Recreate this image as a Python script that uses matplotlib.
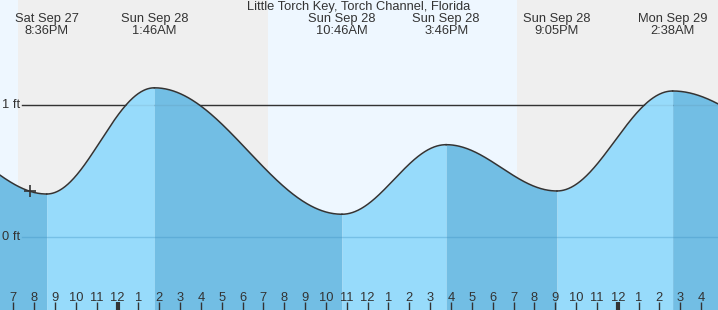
import numpy as np
import matplotlib
matplotlib.use("Agg")
import matplotlib.pyplot as plt
import matplotlib.transforms as mtransforms

plt.rcParams["font.family"] = ["Liberation Sans", "DejaVu Sans"]

# hours counted from Sat Sep 27 00:00
# first and last entries are off-chart extremes, estimated from the curve shape
tide_hours = [15.0, 20.6, 25.767, 34.767, 39.767, 45.083, 50.633, 57.5]
tide_feet = [0.74, 0.327, 1.13, 0.174, 0.70, 0.35, 1.106, 0.68]
event_labels = ["", "Sat Sep 27\n8:36PM", "Sun Sep 28\n1:46AM", "Sun Sep 28\n10:46AM",
                "Sun Sep 28\n3:46PM", "Sun Sep 28\n9:05PM", "Mon Sep 29\n2:38AM", ""]
sun_hours = [19.23, 31.22, 43.17]   # sunset, sunrise, sunset
now_hour = 19.8
now_feet = 0.35
hour_ticks = list(range(19, 53))
level_labels = ["1 ft", "0 ft"]
level_values = [1.0, 0.0]

x0, x1 = 18.36, 52.81
y0, y1 = -0.55, 1.794

day_col = "#eef7ff"
night_col = "#efefef"
rise_col = "#97dbfb"
fall_col = "#72bee4"
ink = "#333333"

fig = plt.figure(figsize=(7.18, 3.10), dpi=100)
ax = fig.add_axes([0, 0, 1, 1])
ax.set_xlim(x0, x1)
ax.set_ylim(y0, y1)
for s in ax.spines.values():
    s.set_visible(False)
ax.set_yticks([])

# day / night background
edges = [x0] + sun_hours + [x1]
for i in range(len(edges) - 1):
    ax.axvspan(edges[i], edges[i + 1], color=day_col if i % 2 == 0 else night_col, lw=0, zorder=0)

# 1 ft / 0 ft reference lines
ax.axhline(level_values[0], xmin=22 / 718, color=ink, lw=1, zorder=1)
ax.axhline(level_values[1], xmin=22 / 718, color="#3a8fc0", lw=1, alpha=0.35, zorder=4)
ax.axhline(level_values[0], xmin=22 / 718, color=ink, lw=1, alpha=0.08, zorder=4)

# tide curve, half-cosine between successive extremes
for i in range(len(tide_hours) - 1):
    ta, tb = tide_hours[i], tide_hours[i + 1]
    va, vb = tide_feet[i], tide_feet[i + 1]
    t = np.linspace(ta, tb, 200)
    v = va + (vb - va) * (1 - np.cos(np.pi * (t - ta) / (tb - ta))) / 2
    ax.fill_between(t, y0, v, color=rise_col if vb > va else fall_col, lw=0, zorder=2)
    ax.plot(t, v, color=ink, lw=1.1, zorder=5)

ax.plot(now_hour, now_feet, marker="+", ms=9, mew=1.2, color=ink, zorder=6)

# extreme labels
trans = mtransforms.blended_transform_factory(ax.transData, ax.transAxes)
for h, lab in zip(tide_hours, event_labels):
    if lab:
        ax.text(h, 1 - 25 / 310, lab, transform=trans, ha="center", va="center",
                fontsize=9.3, color=ink, linespacing=0.95, zorder=7)

ytrans = mtransforms.blended_transform_factory(ax.transAxes, ax.transData)
for lab, val in zip(level_labels, level_values):
    ax.text(2 / 718, val, lab, transform=ytrans, ha="left", va="center",
            fontsize=9.3, color=ink, zorder=7)

fig.text(0.5, 1 - 7 / 310, "Little Torch Key, Torch Channel, Florida",
         ha="center", va="center", fontsize=9.3, color=ink)

# hour ticks
ax.set_xticks(hour_ticks)
ax.set_xticklabels([str((h - 1) % 12 + 1) for h in hour_ticks])
ax.tick_params(axis="x", direction="in", length=6, width=1, color=ink,
               pad=-13, labelsize=9.3, labelcolor=ink)
ax.xaxis.set_zorder(10)
for tk, h in zip(ax.xaxis.get_major_ticks(), hour_ticks):
    if h % 24 == 0:
        tk.tick1line.set_markeredgewidth(3)

fig.savefig("out.png", dpi=100)
